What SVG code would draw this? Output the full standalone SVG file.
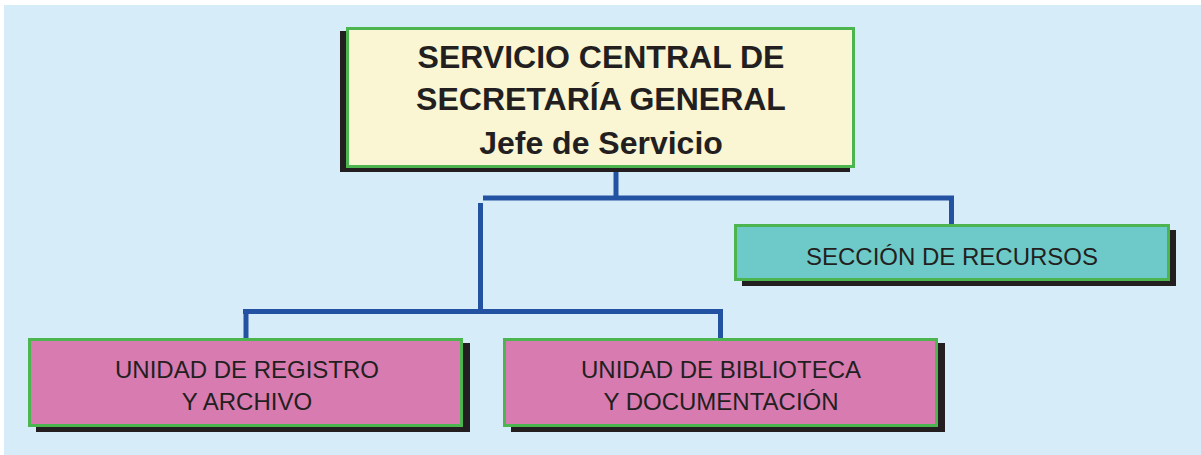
<svg xmlns="http://www.w3.org/2000/svg" width="1201" height="455" viewBox="0 0 1201 455">
<style>
.box{stroke:#4cb54f;stroke-width:3}
.shadow{fill:#231f20}
.conn{stroke:#2352a3;stroke-width:5;fill:none;stroke-linecap:butt}
.title{font-family:"Liberation Sans",Arial,sans-serif;font-weight:bold;font-size:32px;fill:#231f20;text-anchor:middle}
.label{font-family:"Liberation Sans",Arial,sans-serif;font-size:24px;fill:#231f20;text-anchor:middle}
</style>
<rect x="4" y="5" width="1197" height="450" fill="#d6ecf9"/>
<g id="connectors">
<path class="conn" d="M616 168V198"/>
<path class="conn" d="M483 198H954M951.5 198V224"/>
<path class="conn" d="M480.5 203V314"/>
<path class="conn" d="M243 311.5H723M246 311V338M720.5 311V338"/>
</g>
<g id="node-servicio-central">
<rect class="shadow" x="340" y="31" width="510" height="141"/>
<rect class="box" x="347.5" y="28.5" width="506" height="138" fill="#faf6d3"/>
<text class="title" x="601" y="68">SERVICIO CENTRAL DE</text>
<text class="title" x="601" y="110">SECRETARÍA GENERAL</text>
<text class="title" x="601" y="154">Jefe de Servicio</text>
</g>
<g id="node-seccion-recursos">
<rect class="shadow" x="742" y="230" width="434" height="56"/>
<rect class="box" x="735.5" y="225.5" width="433" height="54" fill="#6ecac8"/>
<text class="label" x="952" y="265">SECCIÓN DE RECURSOS</text>
</g>
<g id="node-registro">
<rect class="shadow" x="36" y="343" width="434" height="89"/>
<rect class="box" x="29.5" y="339.5" width="432" height="86" fill="#d77bb0"/>
<text class="label" x="247" y="378">UNIDAD DE REGISTRO</text>
<text class="label" x="247" y="410">Y ARCHIVO</text>
</g>
<g id="node-biblioteca">
<rect class="shadow" x="511" y="343" width="434" height="89"/>
<rect class="box" x="504.5" y="339.5" width="432" height="86" fill="#d77bb0"/>
<text class="label" x="721" y="378">UNIDAD DE BIBLIOTECA</text>
<text class="label" x="721" y="410">Y DOCUMENTACIÓN</text>
</g>
</svg>
